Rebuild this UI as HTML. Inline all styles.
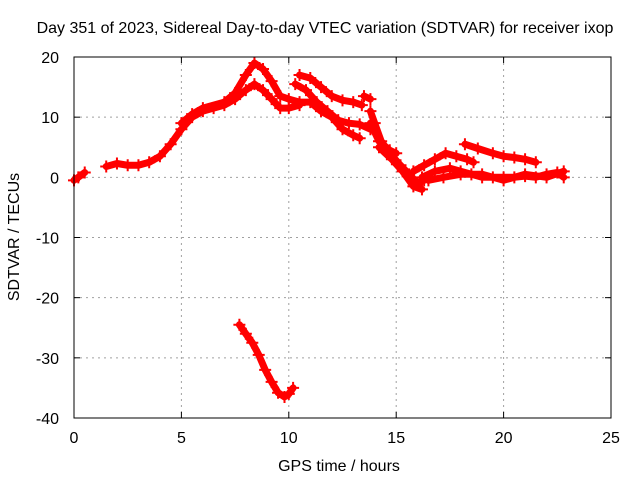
<!DOCTYPE html>
<html><head><meta charset="utf-8"><style>
body{margin:0;background:#fff}
svg text{font-family:"Liberation Sans",sans-serif;font-size:16px;fill:#000}
</style></head><body>
<svg id="chart" width="640" height="480" xmlns="http://www.w3.org/2000/svg">
<rect x="0" y="0" width="640" height="480" fill="#fff"/>
<text x="325" y="33" text-anchor="middle">Day 351 of 2023, Sidereal Day-to-day VTEC variation (SDTVAR) for receiver ixop</text>
<g id="grid"></g>
<g id="ticks"></g>
<g id="series"></g>
<rect x="74" y="57" width="537" height="361" fill="none" stroke="#000" stroke-width="1"/>
<text x="339" y="471" text-anchor="middle">GPS time / hours</text>
<text x="19" y="237" text-anchor="middle" transform="rotate(-90 19 237)">SDTVAR / TECUs</text>
</svg>
<script>
const xTicks=[0,5,10,15,20,25];
const yTicks=[20,10,0,-10,-20,-30,-40];
const trackA=[[0,-0.5],[0.2,0],[0.5,0.8]];
const trackMain=[[1.5,1.8],[2,2.3],[2.5,2],[3,2],[3.5,2.5],[4,3.5],[4.5,5.5],[5,8],[5.5,10],[6,11],[6.5,11.5],[7,12],[7.5,13],[8,14.5],[8.4,15.5],[8.8,14.5],[9.2,13],[9.6,11.5],[10,11.5],[10.5,12]];
const trackUpper=[[5,9],[5.5,10.5],[6,11.5],[7,12.5],[7.5,14],[8,17],[8.4,19],[8.8,18],[9.2,16],[9.6,13.5],[10,13],[10.5,12.5],[11,12.5],[11.5,11],[12,10],[12.5,8],[13,7],[13.3,6.5]];
const trackB=[[10.5,17],[11,16.5],[11.5,15],[12,13.5],[12.5,12.8],[13,12.5],[13.4,12]];
const trackC=[[10.3,15.5],[10.8,14.5],[11.3,12.5],[11.8,11],[12.3,9.5],[12.8,9],[13.3,8.8],[13.8,8]];
const trackD=[[13.5,13.5],[13.8,13]];
const trackE=[[13.8,11],[14,9],[14.3,6],[14.7,4],[15.2,2],[15.6,0.5],[16,-1],[16.3,-0.5]];
const trackF=[[13.8,9],[14.2,6],[14.7,4.5],[15,4]];
const trackG=[[14.2,5],[14.8,3],[15.3,1],[15.8,-1.5],[16.2,-2]];
const trackH=[[15.8,1],[16.3,2],[16.8,3],[17.3,4],[17.8,3.5],[18.3,3],[18.6,2.5]];
const trackI=[[16.2,0],[16.8,1],[17.5,1.5],[18,1],[18.5,0.5],[19,0],[19.5,0],[20,0],[20.5,0],[21,0.2],[21.5,0],[22,0.5],[22.5,0.8],[22.8,0]];
const trackJ=[[18.2,5.5],[18.8,4.8],[19.5,4],[20,3.5],[20.5,3.3],[21,3],[21.5,2.5]];
const trackK=[[16.5,-0.5],[17.2,0],[18,0.5],[19,0.5],[20,-0.5],[21,0.5],[22,0],[22.8,1]];
const trackLow=[[7.7,-24.5],[8,-26],[8.3,-27.5],[8.6,-29.5],[8.9,-32],[9.2,-34],[9.5,-35.8],[9.8,-36.5],[10,-36],[10.2,-35]];
const tracks=[trackA,trackMain,trackUpper,trackB,trackC,trackD,trackE,trackF,trackG,trackH,trackI,trackJ,trackK,trackLow];
const X0=74,X1=611,Y0=418,Y1=57;
function sx(v){return X0+(v-0)/(25-0)*(X1-X0);}
function sy(v){return Y0-(v+40)/(60)*(Y0-Y1);}
const NS="http://www.w3.org/2000/svg";
const grid=document.getElementById('grid'),ticks=document.getElementById('ticks'),ser=document.getElementById('series');
function mk(t,a,p){const e=document.createElementNS(NS,t);for(const k in a)e.setAttribute(k,a[k]);p.appendChild(e);return e;}
xTicks.forEach(v=>{const x=sx(v);
 if(v>0&&v<25){const g=mk('line',{x1:x,x2:x,y1:Y1,y2:Y0,stroke:'#a0a0a0','stroke-dasharray':'2,4'},grid);
 
 }
 mk('line',{x1:x,x2:x,y1:Y0,y2:Y0-6,stroke:'#000'},ticks);mk('line',{x1:x,x2:x,y1:Y1,y2:Y1+6,stroke:'#000'},ticks);
 const t=mk('text',{x:x,y:Y0+25,'text-anchor':'middle'},ticks);t.textContent=v;
 
 });
yTicks.forEach(v=>{const y=sy(v);
 if(v>-40&&v<20){const g=mk('line',{x1:X0,x2:X1,y1:y,y2:y,stroke:'#a0a0a0','stroke-dasharray':'2,4'},grid);
 
 }
 mk('line',{x1:X0,x2:X0+6,y1:y,y2:y,stroke:'#000'},ticks);mk('line',{x1:X1,x2:X1-6,y1:y,y2:y,stroke:'#000'},ticks);
 const t=mk('text',{x:X0-15,y:y+6,'text-anchor':'end'},ticks);t.textContent=v;
 
 });
tracks.forEach(tr=>{
 const pts=tr.map(p=>sx(p[0]).toFixed(1)+','+sy(p[1]).toFixed(1)).join(' ');
 const pl=mk('polyline',{points:pts,fill:'none',stroke:'#f00','stroke-width':7,'stroke-linejoin':'round','stroke-linecap':'round'},ser);
 
 
 tr.forEach(p=>{const x=sx(p[0]),y=sy(p[1]);
  const m=mk('path',{d:`M${x-6},${y}H${x+6}M${x},${y-6}V${y+6}`,stroke:'#f00','stroke-width':2},ser);
  
  });
});
</script>
</body></html>
